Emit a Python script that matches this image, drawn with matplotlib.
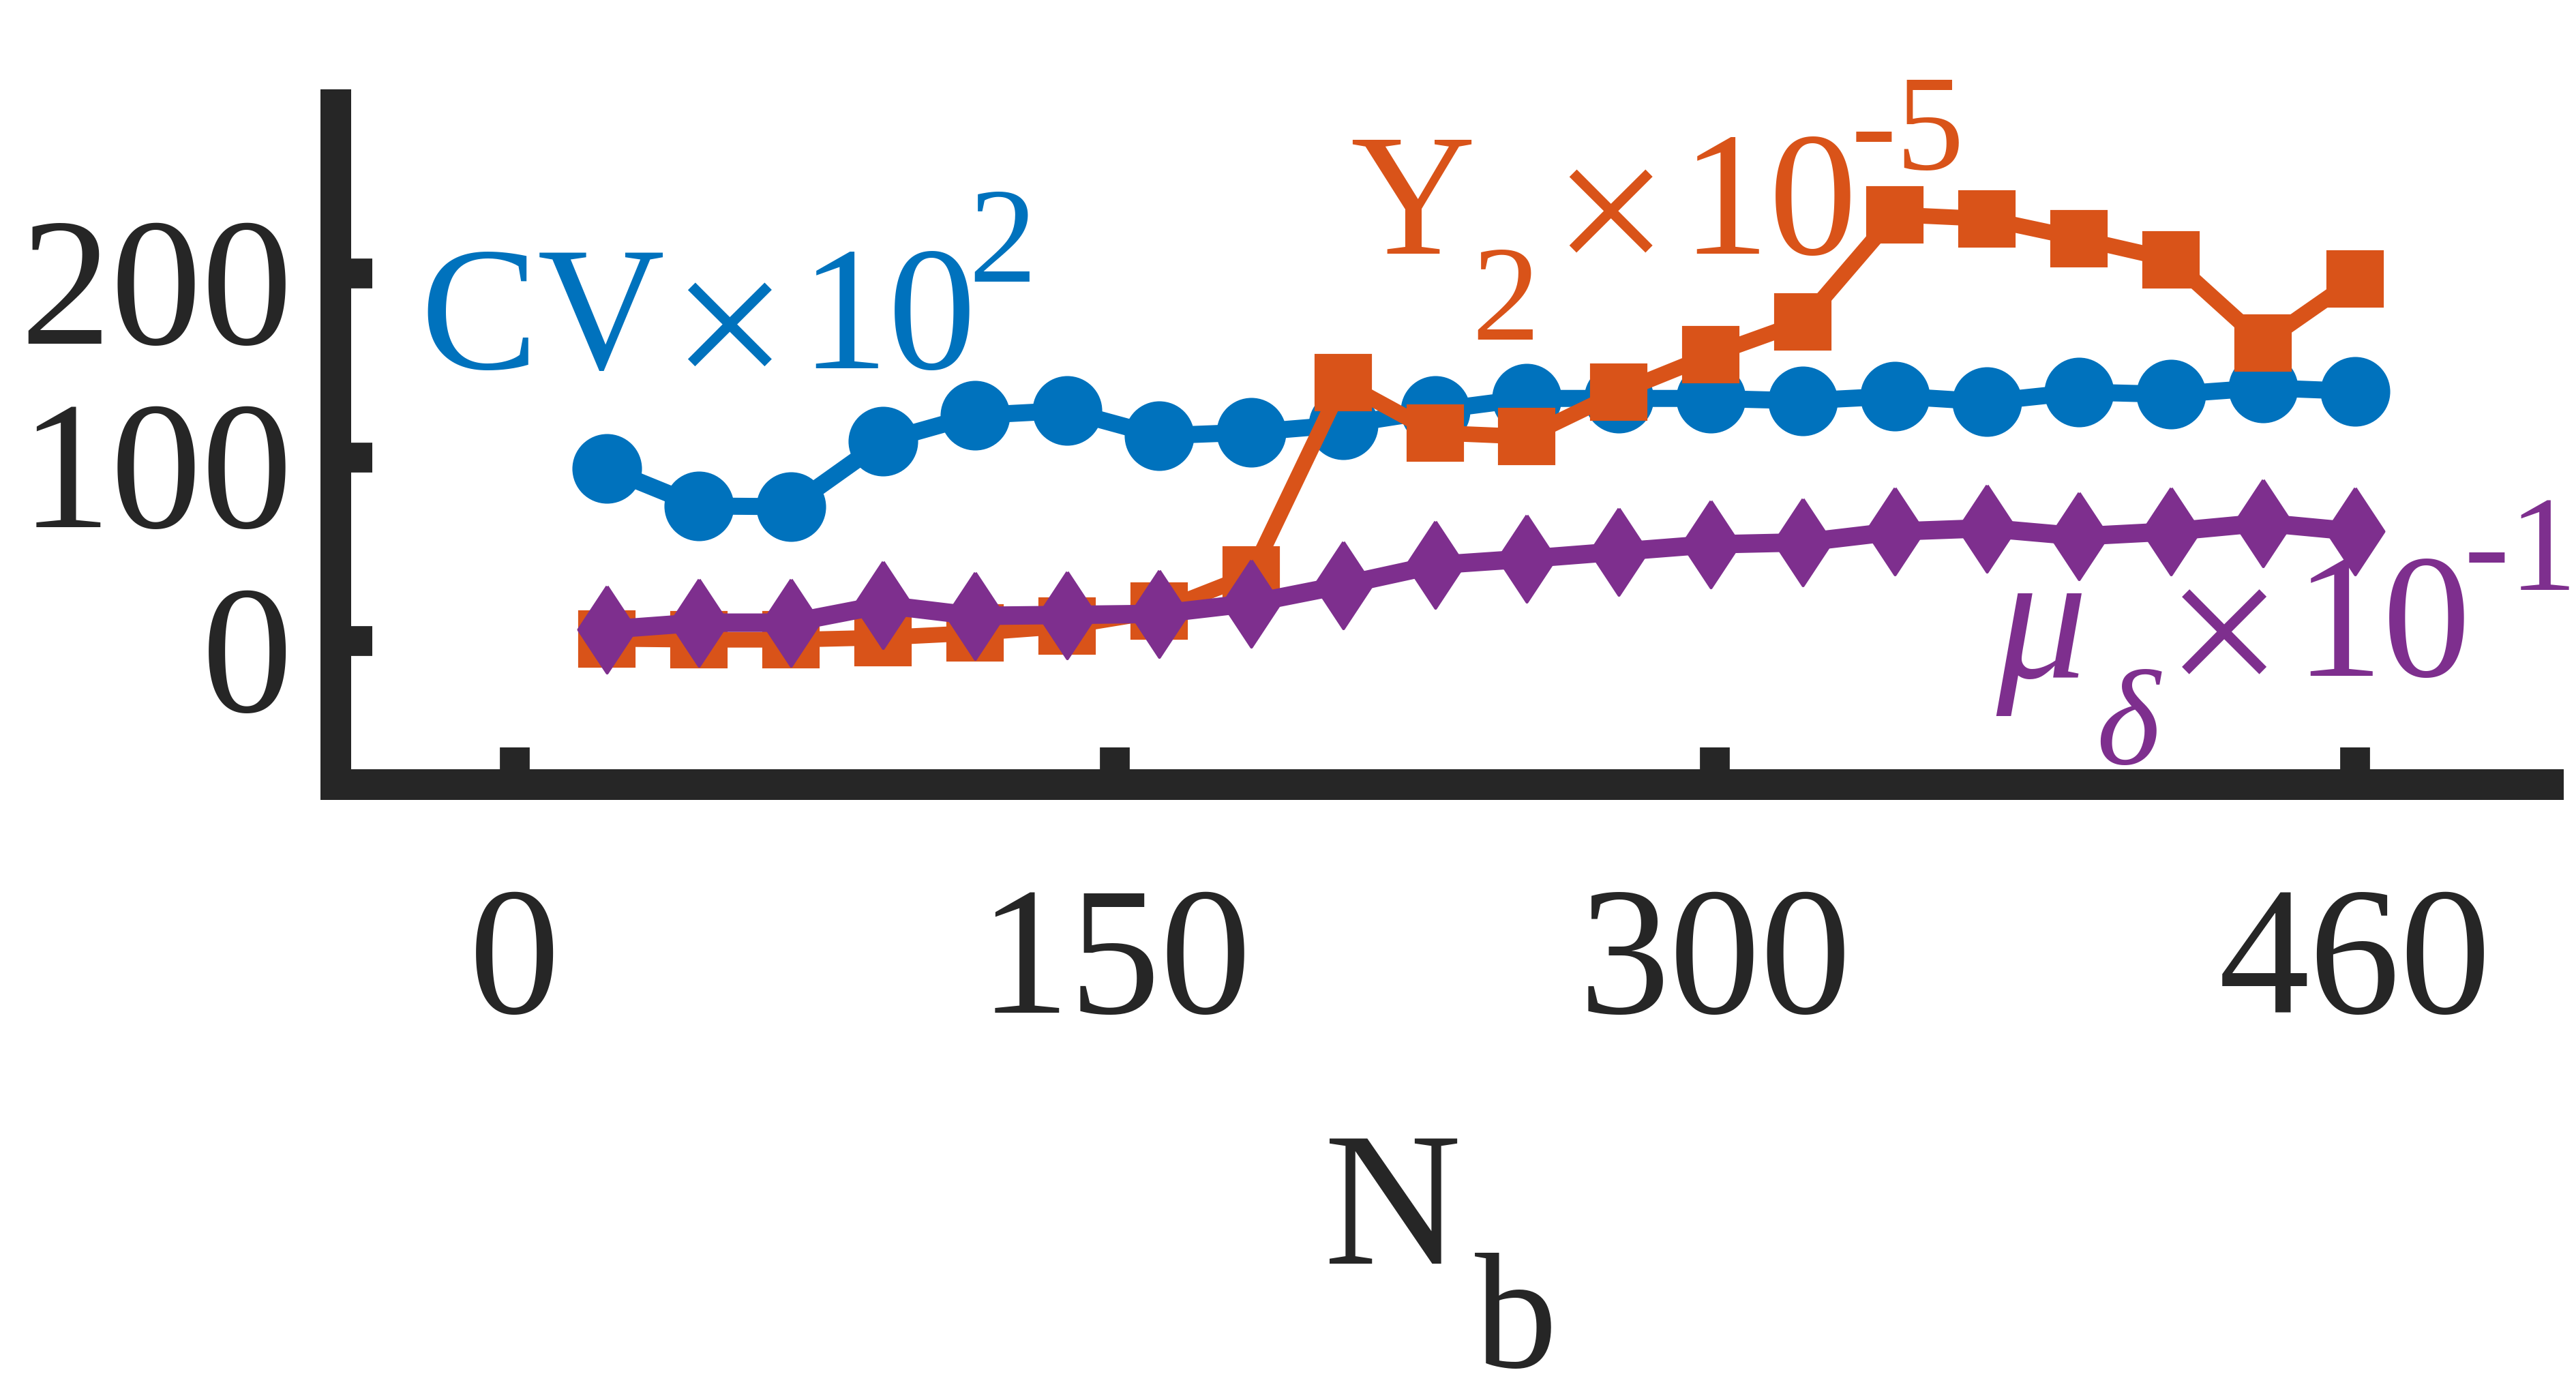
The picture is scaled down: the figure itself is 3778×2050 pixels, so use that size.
import matplotlib
matplotlib.use("Agg")
import matplotlib.pyplot as plt
from matplotlib.textpath import TextPath
from matplotlib.font_manager import FontProperties
from matplotlib.transforms import ScaledTranslation

# data
nb = [23, 46, 69, 92, 115, 138, 161, 184, 207, 230,
      253, 276, 299, 322, 345, 368, 391, 414, 437, 460]
cv = [93.9, 73.5, 73.1, 108.7, 122.8, 125.4, 111.7, 113.6, 117.7, 125.5,
      132.0, 132.0, 132.0, 130.7, 133.3, 130.2, 135.5, 134.2, 137.8, 135.9]
y2 = [1.2, 0.7, 0.7, 1.9, 4.4, 8.1, 16.3, 36.0, 140.6, 113.3,
      111.2, 135.4, 155.7, 173.7, 232.0, 229.7, 219.0, 207.5, 162.2, 197.1]
mu = [6.3, 10.0, 10.0, 19.7, 13.7, 14.2, 14.8, 20.6, 30.5, 41.4,
      44.8, 48.7, 52.6, 53.7, 59.6, 61.4, 57.0, 59.6, 64.3, 59.6]
xticks = [0, 150, 300, 460]
yticks = [0, 100, 200]

W, H = 3779, 2050
DPI = 300
PX = DPI / 72.0
BLUE = '#0072BD'
ORANGE = '#D95319'
PURPLE = '#7E2F8E'
DARK = '#262626'
FONT = 'Liberation Serif'

plt.rcParams['font.family'] = FONT

fig = plt.figure(figsize=(W / DPI, H / DPI), dpi=DPI)
ax = fig.add_axes([492 / W, 1 - 1150 / H, (3737 - 492) / W, (1150 - 153) / H])

thin_d = [(0, 1), (0.66, 0), (0, -1), (-0.66, 0), (0, 1)]

ax.plot(nb, cv, '-', color=BLUE, lw=6.0, marker='o', ms=23.5, mew=1, mec=BLUE, mfc=BLUE)
ax.plot(nb, y2, '-', color=ORANGE, lw=5.5, marker='s', ms=19, mew=1, mec=ORANGE, mfc=ORANGE)
ax.plot(nb, mu, '-', color=PURPLE, lw=6.5, marker=thin_d, ms=30.5, mew=1, mec=PURPLE, mfc=PURPLE)

ax.set_xlim(-44.8, 508.2)
ax.set_ylim(-77.9, 292.0)
ax.set_xticks(xticks)
ax.set_yticks(yticks)

for s in ['top', 'right']:
    ax.spines[s].set_visible(False)
for s in ['left', 'bottom']:
    ax.spines[s].set_linewidth(10.8)
    ax.spines[s].set_color(DARK)
    ax.spines[s].set_capstyle('projecting')

ax.tick_params(axis='both', direction='in', length=13, width=10.5, color=DARK,
               labelcolor=DARK, labelsize=64)
ax.tick_params(axis='x', pad=36)
ax.tick_params(axis='y', pad=15)
# y tick labels sit a little below their ticks in the reference
for t in ax.yaxis.get_major_ticks():
    t.label1.set_transform(t.label1.get_transform()
                           + ScaledTranslation(0, -10 / DPI, fig.dpi_scale_trans))


def ink(s, size, style='normal'):
    # ink box of a string, in points
    return TextPath((0, 0), s, size=size,
                    prop=FontProperties(family=FONT, style=style)).get_extents()


def put(s, x, y, size, color, style='normal'):
    # x = left ink edge, y = baseline, both in picture pixels from the top left
    e = ink(s, size, style)
    x0 = x - e.x0 * PX
    fig.text(x0 / W, 1 - y / H, s, fontsize=size, color=color, style=style,
             ha='left', va='baseline', family=FONT)


def put_box(s, left, bottom, width, color):
    # scale a glyph so its ink is `width` px wide, ink bottom-left at (left, bottom)
    e = ink(s, 100)
    size = 100 * width / (e.width * PX)
    k = size / 100
    x0 = left - e.x0 * k * PX
    base = bottom + e.y0 * k * PX
    fig.text(x0 / W, 1 - base / H, s, fontsize=size, color=color,
             ha='left', va='baseline', family=FONT)


# CV x 10^2
put('CV', 627, 540, 62, BLUE)
put_box('\u00d7', 1008, 537, 123, BLUE)
put('10', 1196, 540, 62, BLUE)
put('2', 1429, 413, 48, BLUE)

# Y_2 x 10^-5
put('Y', 1983, 372, 61, ORANGE)
put('2', 2167, 498, 48, ORANGE)
put_box('\u00d7', 2301, 370, 122, ORANGE)
put('10', 2488, 372, 62, ORANGE)
put('-5', 2722, 248, 48, ORANGE)

# mu_delta x 10^-1
put('\u03bc', 2927, 993, 64, PURPLE, style='italic')
put('\u03b4', 3080, 1120, 48, PURPLE, style='italic')
put_box('\u00d7', 3200, 989, 124, PURPLE)
put('10', 3388, 991, 62, PURPLE)
put('-1', 3621, 865, 48, PURPLE)

# x label N_b
put('N', 1950, 1853, 67, DARK)
put('b', 2163, 2005, 58, DARK)

fig.savefig('out.png', dpi=DPI)
